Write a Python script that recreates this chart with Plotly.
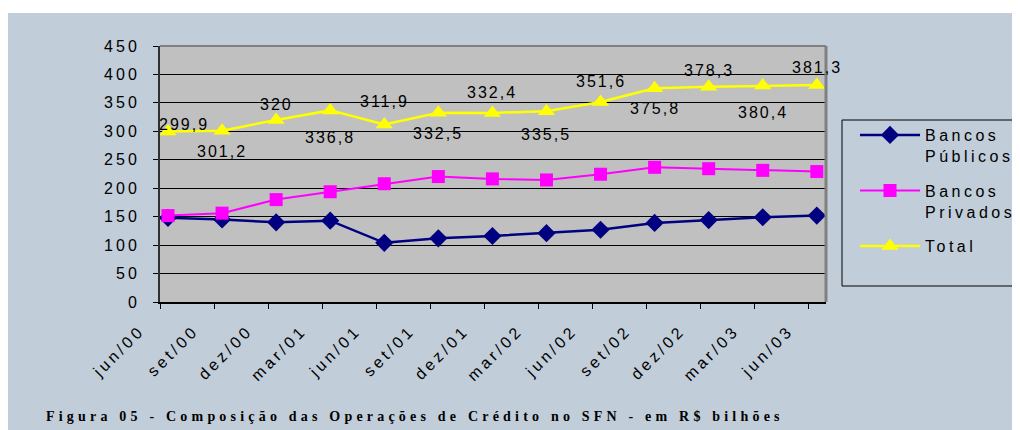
import plotly.graph_objects as go

# ---- data ----
categories = ["jun/00", "set/00", "dez/00", "mar/01", "jun/01", "set/01", "dez/01",
              "mar/02", "jun/02", "set/02", "dez/02", "mar/03", "jun/03"]
bancos_publicos = [148, 145, 140, 143, 104, 112, 116, 121, 127, 139, 144, 149, 152]
bancos_privados = [151.9, 156.2, 180, 193.8, 207.9, 220.5, 216.4, 214.5, 224.6, 236.8, 234.3, 231.4, 229.3]
total = [299.9, 301.2, 320, 336.8, 311.9, 332.5, 332.4, 335.5, 351.6, 375.8, 378.3, 380.4, 381.3]
y_ticks = [0, 50, 100, 150, 200, 250, 300, 350, 400, 450]
title_text = "Figura 05 - Composição das Operações de Crédito no SFN - em R$ bilhões"

# ---- style ----
# the page body keeps its default 8px margin, so the figure starts at page pixel (8, 8)
W, H = 1012, 422
L, R, T, B = 152, 194, 38, 128
PW, PH = 666, 256
BG = "#c1cdd9"
PLOT_BG = "#c0c0c0"
SANS = "Liberation Sans, Arial, sans-serif"
X_RANGE = [-0.148, 12.17]
TICK_OFFSET = -0.148
label_dy = [7, -21, 15, -27, 23, -21, 20, -23, 20, -20, 16, -27, 18]
label_dx = [16, 0, 0, 0, 0, 0, 0, 0, 0, 0, 0, 0, 0]


def px_x(p):  # page pixel -> paper x
    return (p - 160) / PW


def px_y(p):  # page pixel -> paper y
    return (302 - p) / PH


xs = list(range(len(categories)))

fig = go.Figure()
fig.add_trace(go.Scatter(x=xs, y=bancos_publicos, name="Bancos<br>Públicos", mode="lines+markers",
                         line=dict(color="#000080", width=2.5),
                         marker=dict(symbol="diamond", size=14, color="#000080"),
                         legendgroup="a"))
fig.add_trace(go.Scatter(x=xs, y=bancos_privados, name="Bancos<br>Privados", mode="lines+markers",
                         line=dict(color="#ff00ff", width=2),
                         marker=dict(symbol="square", size=13, color="#ff00ff"),
                         legendgroup="b"))
fig.add_trace(go.Scatter(x=xs, y=total, name="Total", mode="lines+markers",
                         line=dict(color="#ffff00", width=2.5),
                         marker=dict(symbol="triangle-up", size=15, color="#ffff00"),
                         legendgroup="c"))

annotations = [dict(text=title_text, xref="paper", yref="paper", x=px_x(44), y=px_y(416),
                    xanchor="left", yanchor="middle", align="left", showarrow=False,
                    font=dict(family="Liberation Serif, Times New Roman, serif", size=14,
                              color="#000000", weight="bold"))]
for i, v in enumerate(total):
    annotations.append(dict(text=f"{v:g}".replace(".", ","), x=xs[i], y=v, xref="x", yref="y",
                            showarrow=False, yshift=label_dy[i], xshift=label_dx[i],
                            font=dict(family=SANS, size=16, color="#000000")))

shapes = [
    dict(type="rect", xref="paper", yref="paper", x0=px_x(0), x1=px_x(1030), y0=px_y(13), y1=px_y(4),
         fillcolor="#ffffff", line=dict(width=0), layer="above"),
    dict(type="line", xref="paper", yref="paper", x0=0, x1=1, y0=1, y1=1,
         line=dict(color="#808080", width=2), layer="above"),
    dict(type="line", xref="paper", yref="paper", x0=1, x1=1, y0=0, y1=1,
         line=dict(color="#808080", width=3), layer="above"),
    dict(type="rect", xref="paper", yref="paper", x0=px_x(842), x1=px_x(1035), y0=px_y(286), y1=px_y(120),
         fillcolor="rgba(0,0,0,0)", line=dict(color="#000000", width=1), layer="above"),
]

fig.update_layout(
    width=W, height=H,
    margin=dict(l=L, r=R, t=T, b=B, pad=0),
    paper_bgcolor=BG, plot_bgcolor=PLOT_BG,
    font=dict(family=SANS, size=16, color="#000000"),
    showlegend=True,
    legend=dict(x=px_x(855), y=px_y(118), xanchor="left", yanchor="top",
                bgcolor="rgba(0,0,0,0)", borderwidth=0, itemwidth=60,
                font=dict(family=SANS, size=16, color="#000000"),
                tracegroupgap=11, valign="top", itemclick=False),
    annotations=annotations,
    shapes=shapes,
    xaxis=dict(range=X_RANGE, tickmode="array",
               tickvals=[x + TICK_OFFSET for x in xs], ticktext=categories,
               tickangle=-45, ticks="outside", ticklen=5, tickcolor="#000000", tickwidth=1,
               ticklabelshift=-20, ticklabelstandoff=6,
               tickfont=dict(family=SANS, size=16, color="#000000"),
               showgrid=False, zeroline=False, showline=True, linecolor="#000000", linewidth=2),
    yaxis=dict(range=[0, 450], tickmode="array", tickvals=y_ticks,
               ticks="outside", ticklen=5, tickcolor="#000000", tickwidth=1,
               showgrid=True, gridcolor="#000000", gridwidth=1, zeroline=False,
               showline=True, linecolor="#303030", linewidth=2,
               ticklabelstandoff=10,
               tickfont=dict(family=SANS, size=16, color="#000000")),
)

post_script = """
var s = document.createElement('style');
s.textContent = '.xtick text{letter-spacing:3.5px} .ytick text{letter-spacing:3px} '
  + '.legendtext, .legendtext tspan{letter-spacing:3.5px} .annotation-text{letter-spacing:2px} '
  + '.legend .scrollbox{clip-path:none !important} '
  + '.annotation[data-index="0"] .annotation-text{letter-spacing:4.2px}';
document.head.appendChild(s);
"""

fig.write_html("out.html", post_script=post_script)
